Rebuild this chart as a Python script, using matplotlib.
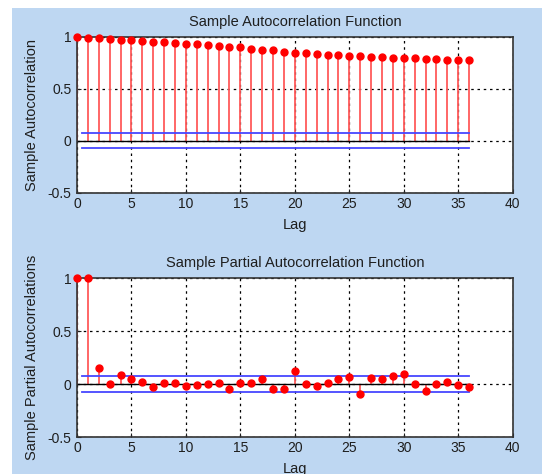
import matplotlib.pyplot as plt
from matplotlib.patches import Rectangle
from matplotlib.ticker import FuncFormatter

plt.rcParams['font.family'] = ['Liberation Sans', 'DejaVu Sans']

lags = list(range(37))
acf = [1.00, 0.99, 0.99, 0.98, 0.97, 0.97, 0.96, 0.95, 0.95, 0.94,
       0.93, 0.93, 0.92, 0.91, 0.90, 0.90, 0.88, 0.87, 0.87, 0.86,
       0.85, 0.85, 0.84, 0.83, 0.83, 0.82, 0.82, 0.81, 0.81, 0.80,
       0.80, 0.80, 0.79, 0.79, 0.78, 0.78, 0.78]
pacf = [1.00, 1.00, 0.15, 0.00, 0.086, 0.045, 0.022, -0.032, 0.013, 0.013,
        -0.019, -0.01, 0.00, 0.013, -0.05, 0.013, 0.013, 0.045, -0.05, -0.05,
        0.12, 0.00, -0.02, 0.013, 0.045, 0.064, -0.096, 0.054, 0.045, 0.077,
        0.096, 0.00, -0.064, 0.00, 0.022, -0.01, -0.032]
acf_bound = 0.072
pacf_bound = 0.076

txt = '#1e1e1e'


def fmt(v, pos):
    return '%g' % v


def draw_panel(ax, values, bound, title, ylabel):
    ax.set_facecolor('white')
    ml, sl, bl = ax.stem(lags, values, basefmt='k-')
    plt.setp(sl, color='#ff5a5a', linewidth=1.3)
    plt.setp(ml, color='red', markersize=5, clip_on=False, zorder=4)
    plt.setp(bl, color='black', linewidth=1.0)
    ax.plot([0.5, 36], [bound, bound], color='#4646ff', linewidth=1.3)
    ax.plot([0.5, 36], [-bound, -bound], color='#4646ff', linewidth=1.3)
    ax.set_xlim(0, 40)
    ax.set_ylim(-0.5, 1)
    ax.set_xticks(range(0, 41, 5))
    ax.set_yticks([-0.5, 0, 0.5, 1])
    ax.yaxis.set_major_formatter(FuncFormatter(fmt))
    ax.grid(True, color='black', linestyle=(0, (2, 3)), linewidth=0.9)
    ax.set_axisbelow(True)
    ax.tick_params(direction='in', length=3, labelsize=10, colors=txt)
    ax.tick_params(axis='y', pad=4)
    ax.tick_params(axis='x', pad=3)
    for s in ax.spines.values():
        s.set_linewidth(1.2)
        s.set_color('#333333')
    ax.set_title(title, fontsize=10.5, color=txt, pad=8)
    ax.set_xlabel('Lag', fontsize=10.5, color=txt, labelpad=5)
    ax.set_ylabel(ylabel, fontsize=10.5, color=txt, labelpad=6)


fig = plt.figure(figsize=(5.42, 4.74), dpi=100)
fig.patch.set_facecolor('white')
fig.patches.append(Rectangle((12 / 542, 0), 1, 1 - 8 / 474, transform=fig.transFigure,
                             facecolor='#bed7f2', edgecolor='none', zorder=-10))

ax1 = fig.add_axes([0.142, 0.593, 0.804, 0.329])
ax2 = fig.add_axes([0.142, 0.078, 0.804, 0.335])

draw_panel(ax1, acf, acf_bound, 'Sample Autocorrelation Function', 'Sample Autocorrelation')
draw_panel(ax2, pacf, pacf_bound, 'Sample Partial Autocorrelation Function',
           'Sample Partial Autocorrelations')

fig.savefig('out.png', dpi=100, facecolor=fig.get_facecolor())
